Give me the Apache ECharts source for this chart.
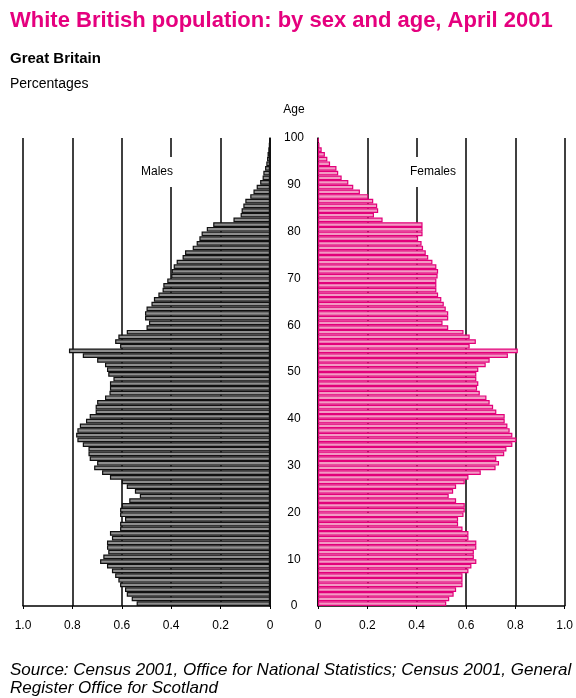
<!DOCTYPE html>
<html><head><meta charset="utf-8">
<script src="https://cdn.jsdelivr.net/npm/echarts@6/dist/echarts.min.js"></script>
<style>html,body{margin:0;padding:0;background:#fff}#c{width:576px;height:698px}</style>
</head><body><div id="c"></div>
<script>
// Age categories (single years 0..99)
const ages = Array.from({length: 100}, (_, i) => String(i));
// Percentages of the White British population, males, age 0..99
const maleValues = [
  0.54,0.56,0.58,0.587,0.607,0.614,0.627,0.64,0.66,0.688,
  0.675,0.655,0.66,0.66,0.64,0.648,0.607,0.607,0.587,0.607,
  0.607,0.60,0.57,0.527,0.547,0.58,0.60,0.648,0.68,0.712,
  0.70,0.73,0.735,0.735,0.758,0.78,0.785,0.78,0.77,0.745,
  0.73,0.706,0.706,0.70,0.668,0.65,0.648,0.648,0.634,0.655,
  0.66,0.668,0.70,0.758,0.814,0.607,0.627,0.614,0.58,0.50,
  0.49,0.506,0.506,0.50,0.48,0.47,0.452,0.435,0.432,0.416,
  0.40,0.398,0.39,0.378,0.354,0.344,0.313,0.297,0.286,0.277,
  0.256,0.23,0.148,0.119,0.115,0.108,0.10,0.08,0.067,0.054,
  0.04,0.03,0.027,0.02,0.015,0.012,0.01,0.007,0.005,0.003
];
// Percentages, females, age 0..99
const femaleValues = [
  0.52,0.532,0.55,0.56,0.586,0.586,0.586,0.61,0.622,0.642,
  0.632,0.632,0.642,0.642,0.61,0.61,0.586,0.568,0.568,0.59,
  0.595,0.595,0.56,0.53,0.548,0.56,0.595,0.61,0.66,0.72,
  0.734,0.723,0.755,0.764,0.788,0.804,0.788,0.777,0.768,0.757,
  0.757,0.723,0.71,0.696,0.683,0.656,0.645,0.65,0.642,0.642,
  0.65,0.68,0.696,0.77,0.81,0.615,0.64,0.615,0.59,0.528,
  0.505,0.528,0.528,0.518,0.51,0.5,0.487,0.48,0.48,0.48,
  0.485,0.487,0.48,0.464,0.447,0.437,0.426,0.42,0.406,0.424,
  0.424,0.424,0.262,0.227,0.244,0.24,0.224,0.204,0.17,0.143,
  0.123,0.096,0.082,0.075,0.049,0.038,0.028,0.015,0.006,0.003
];
const pctMin = 0, pctMax = 1.0, pctStep = 0.2;
const ageMin = 0, ageMax = 100, ageStep = 10;

const titleText = 'White British population: by sex and age, April 2001';
const sourceText = 'Source: Census 2001, Office for National Statistics; Census 2001, General\nRegister Office for Scotland';

const FONT = '"Liberation Sans", Arial, sans-serif';
const pctFmt = v => v === 0 ? '0' : v.toFixed(1);

const chart = echarts.init(document.getElementById('c'), null, {renderer: 'canvas'});
const axisLabelStyle = {color: '#000', fontSize: 12, fontFamily: FONT, margin: 14, formatter: pctFmt};
const splitStyle = {show: true, lineStyle: {color: '#000', width: 1.5}};

chart.setOption({
  animation: false,
  backgroundColor: '#fff',
  grid: [
    {left: 23, right: 306, top: 138, bottom: 92},
    {left: 318, right: 11, top: 138, bottom: 92}
  ],
  xAxis: [
    {type: 'value', gridIndex: 0, min: pctMin, max: pctMax, interval: pctStep, inverse: true,
     axisLine: {show: true, lineStyle: {color: '#000', width: 1.5}},
     axisTick: {show: true, length: 3, lineStyle: {color: '#000'}},
     axisLabel: axisLabelStyle, splitLine: splitStyle},
    {type: 'value', gridIndex: 1, min: pctMin, max: pctMax, interval: pctStep,
     axisLine: {show: true, lineStyle: {color: '#000', width: 1.5}},
     axisTick: {show: true, length: 3, lineStyle: {color: '#000'}},
     axisLabel: axisLabelStyle, splitLine: splitStyle}
  ],
  yAxis: [
    {type: 'category', gridIndex: 0, data: ages, position: 'right',
     axisLine: {show: true, onZero: false, lineStyle: {color: '#000', width: 1.5}},
     axisTick: {show: false}, axisLabel: {show: false}, splitLine: {show: false}},
    {type: 'category', gridIndex: 1, data: ages, position: 'left',
     axisLine: {show: true, onZero: false, lineStyle: {color: '#000', width: 1.5}},
     axisTick: {show: false}, axisLabel: {show: false}, splitLine: {show: false}},
    {type: 'value', gridIndex: 0, min: ageMin, max: ageMax, interval: ageStep, position: 'right',
     name: 'Age', nameLocation: 'end', nameGap: 22,
     nameTextStyle: {color: '#000', fontSize: 12, fontFamily: FONT, align: 'center', padding: [0, 0, 0, 48]},
     axisLine: {show: false}, axisTick: {show: false}, splitLine: {show: false},
     axisLabel: {color: '#000', fontSize: 12, fontFamily: FONT, align: 'center', margin: 24}}
  ],
  series: [
    {type: 'bar', name: 'Males', xAxisIndex: 0, yAxisIndex: 0, data: maleValues,
     barCategoryGap: '0%', barWidth: '100%',
     itemStyle: {color: '#8e8e8e', borderColor: '#111', borderWidth: 1.2}},
    {type: 'bar', name: 'Females', xAxisIndex: 1, yAxisIndex: 1, data: femaleValues,
     barCategoryGap: '0%', barWidth: '100%',
     itemStyle: {color: '#f39ac4', borderColor: '#e2007a', borderWidth: 1.2}}
  ],
  graphic: [
    {type: 'text', left: 10, top: 10, z: 100,
     style: {text: titleText, fill: '#e5007e', fontSize: 22, fontWeight: 'bold', fontFamily: FONT}},
    {type: 'text', left: 10, top: 51, z: 100,
     style: {text: 'Great Britain', fill: '#000', fontSize: 15, fontWeight: 'bold', fontFamily: FONT}},
    {type: 'text', left: 10, top: 77, z: 100,
     style: {text: 'Percentages', fill: '#000', fontSize: 14, fontFamily: FONT}},
    {type: 'text', x: 157, y: 172, z: 100,
     style: {text: 'Males', fill: '#000', fontSize: 12, fontFamily: FONT, align: 'center', verticalAlign: 'middle',
             backgroundColor: '#fff', padding: [9, 2]}},
    {type: 'text', x: 433, y: 172, z: 100,
     style: {text: 'Females', fill: '#000', fontSize: 12, fontFamily: FONT, align: 'center', verticalAlign: 'middle',
             backgroundColor: '#fff', padding: [9, 2]}},
    {type: 'text', left: 10, top: 661, z: 100,
     style: {text: sourceText, fill: '#000', fontSize: 17, fontStyle: 'italic', fontFamily: FONT, lineHeight: 18}}
  ]
});
</script></body></html>
